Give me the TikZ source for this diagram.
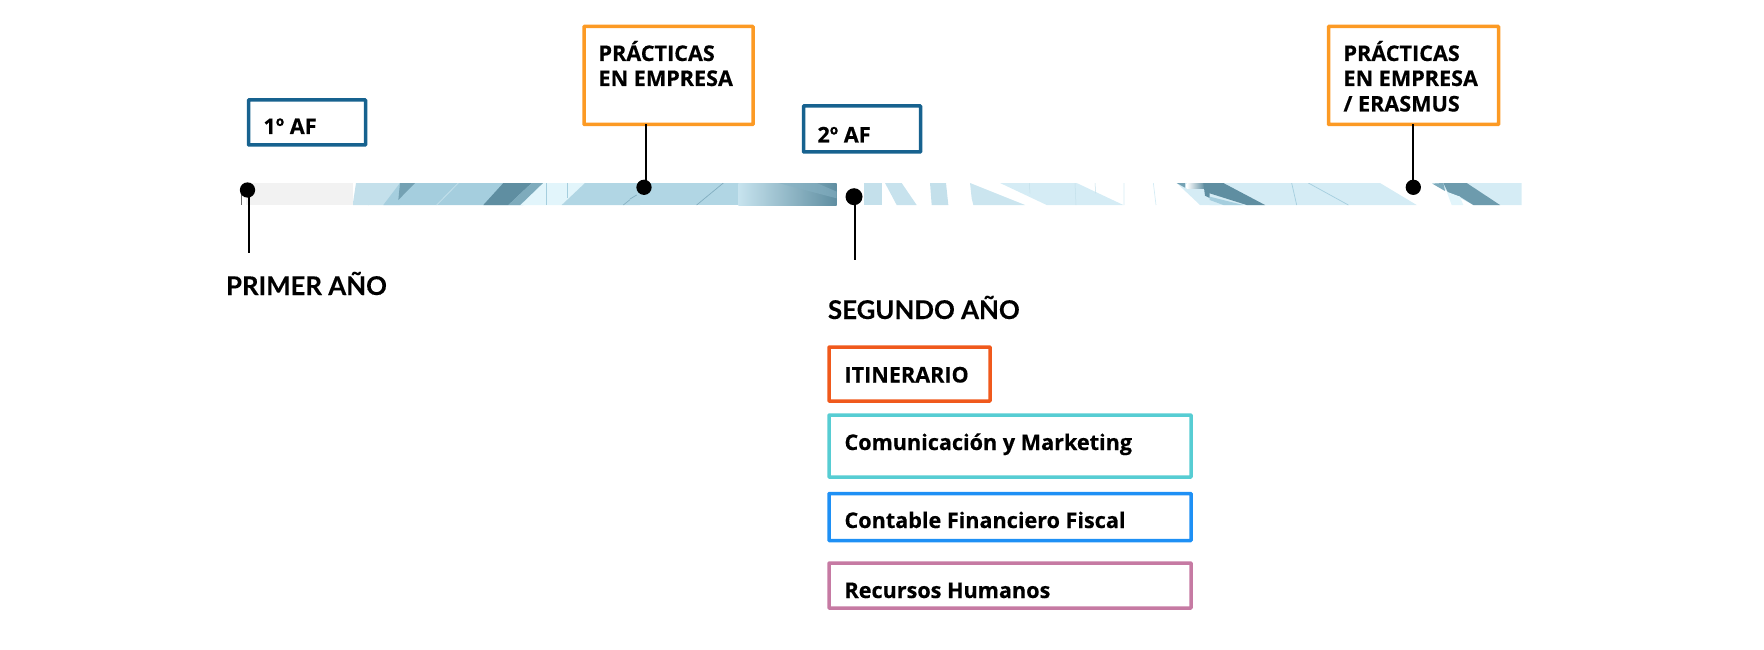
\documentclass[tikz,border=0pt]{standalone}
\usepackage{fontspec}
\newfontfamily\boxfont{Open Sans}[BoldFont={Open Sans Bold},BoldFeatures={FakeBold=0.35}]
\newfontfamily\headfont{Lato}[BoldFont={Lato Bold},BoldFeatures={FakeBold=0.25}]
\definecolor{afblue}{HTML}{17628F}
\definecolor{pracorange}{HTML}{FC9A24}
\definecolor{itired}{HTML}{F0591C}
\definecolor{comteal}{HTML}{57CDD3}
\definecolor{conblue}{HTML}{1E90F5}
\definecolor{recpink}{HTML}{C67AA3}
\definecolor{bgray}{HTML}{F2F2F2}
\definecolor{bl}{HTML}{C4E0EB}
\definecolor{bm}{HTML}{A5CEDE}
\definecolor{bd}{HTML}{5F8EA1}
\definecolor{bp}{HTML}{D5ECF5}
\definecolor{bw}{HTML}{E2F5FB}
\tikzset{
  framebox/.style={draw=#1,line width=3.5pt,rectangle,anchor=north west,inner sep=0pt,outer sep=0pt,rounded corners=.6pt},
  boxtext/.style={font=\boxfont\bfseries\fontsize{21.6}{25}\selectfont,anchor=base west,inner sep=0pt,outer sep=0pt,text=black},
  headtext/.style={font=\headfont\bfseries\fontsize{25.8}{30}\selectfont,anchor=base west,inner sep=0pt,outer sep=0pt,text=black},
  dotmark/.style={circle,fill=black,inner sep=0pt,outer sep=0pt,minimum size=#1},
  stem/.style={black,line width=2pt},
  panel/.style={x=.33333pt,y=-.33333pt,shift={(#1pt,-175pt)}}
}
\begin{document}
\begin{tikzpicture}[x=1pt,y=-1pt]
\useasboundingbox (0,0) rectangle (1764,650);
% band
\fill[bgray] (246,183) rectangle (353,205);
\begin{scope}
\clip (353,183) rectangle (1522,205);
\begin{scope}[panel=340]
\fill[bl] (48,24) -- (240,24) -- (180,90) -- (38,90) -- cycle;
\fill[bm] (180,24) -- (620,24) -- (550,90) -- (130,90) -- cycle;
\fill[bd!70!bm] (180,24) -- (225,24) -- (175,75) -- cycle;
\draw[bl,line width=.8pt] (150,24) -- (85,90) (355,24) -- (290,90);
\fill[bd] (490,24) -- (575,24) -- (505,90) -- (430,90) -- cycle;
\fill[bd!55!bm] (575,24) -- (610,24) -- (540,90) -- (505,90) -- cycle;
\fill[bw] (610,24) -- (735,24) -- (665,90) -- (542,90) -- cycle;
\draw[bm,line width=.6pt] (618,24) -- (618,90) (682,24) -- (682,68);
\fill[bm!80!bw] (735,24) -- (900,24) -- (900,90) -- (665,90) -- cycle;
\draw[bd!50!bm,line width=.6pt] (900,50) -- (850,90);
\end{scope}
\begin{scope}[panel=630]
\fill[bm!80!bw] (-1,24) rectangle (326,90);
\draw[bd!50!bm,line width=.7pt] (0,72) -- (20,60) (280,24) -- (200,90);
\shade[left color=bp!70!bm,right color=bd] (325,24) rectangle (620,90);
\fill[bd!45!bm,opacity=.6] (445,24) -- (560,24) -- (620,50) -- (620,70) -- cycle;
\fill[bl] (703,24) rectangle (755,90);
\fill[bl!80!bp] (765,24) -- (815,24) -- (860,90) -- (800,90) -- cycle;
\end{scope}
\begin{scope}[panel=920]
\fill[bl] (30,24) -- (78,24) -- (85,90) -- (35,90) -- cycle;
\fill[bl!60!bp] (150,24) -- (315,90) -- (160,90) -- (155,70) -- cycle;
\fill[bp] (240,24) -- (470,24) -- (610,90) -- (380,90) -- cycle;
\draw[bl,line width=.5pt] (328,24) -- (330,55) (465,24) -- (468,90) (525,24) -- (527,55);
\draw[bp,line width=.7pt] (612,24) -- (612,90) (700,24) -- (708,90);
\fill[bp] (770,24) -- (900,24) -- (900,90) -- (840,90) -- cycle;
\shade[left color=white,right color=bd] (800,24) rectangle (855,40);
\fill[bd] (850,24) -- (900,24) -- (900,85) -- (855,62) -- cycle;
\fill[bd!70!bm] (770,24) -- (795,24) -- (795,38) -- cycle;
\end{scope}
\begin{scope}[panel=1210]
\fill[bp] (-1,55) -- (40,24) -- (510,24) -- (620,90) -- (-1,90) -- cycle;
\fill[bd] (-1,24) -- (40,24) -- (165,90) -- (110,90) -- (-1,55) -- cycle;
\fill[bm] (-1,65) -- (100,90) -- (40,90) -- (-1,75) -- cycle;
\draw[bm,line width=.7pt] (295,24) -- (415,90) (245,24) -- (260,90);
\fill[bp] (665,24) -- (935,24) -- (935,90) -- (790,90) -- cycle;
\fill[bd!80!bm] (700,24) -- (770,24) -- (870,90) -- (790,90) -- (750,65) -- (715,55) -- cycle;
\fill[bd!55!bm] (667,26) -- (700,24) -- (705,48) -- cycle;
\fill[bw] (710,50) -- (750,65) -- (760,90) -- (725,90) -- cycle;
\end{scope}
\end{scope}
% small tick
\draw[black!60,line width=1.2pt] (241.7,190) -- (241.7,205);
% boxes
\node[framebox=afblue,minimum width=117pt,minimum height=45pt] (af1) at (248.5,100) {};
\node[framebox=afblue,minimum width=117pt,minimum height=46pt] (af2) at (803.5,106) {};
\node[framebox=pracorange,minimum width=169pt,minimum height=98pt] (pr1) at (584,26.5) {};
\node[framebox=pracorange,minimum width=170pt,minimum height=98pt] (pr2) at (1328.5,26.5) {};
\node[framebox=itired,minimum width=161pt,minimum height=54pt] (iti) at (829,347) {};
\node[framebox=comteal,minimum width=362pt,minimum height=62pt] (com) at (829,415) {};
\node[framebox=conblue,minimum width=362pt,minimum height=47pt] (con) at (829,493.5) {};
\node[framebox=recpink,minimum width=362pt,minimum height=45pt] (rec) at (829,563) {};
% texts
\node[boxtext] (t1) at (263.5,134) {1º AF};
\node[boxtext] (t2) at (817.5,142.5) {2º AF};
\node[boxtext] (t3a) at (598.5,61) {PRÁCTICAS};
\node[boxtext] (t3b) at (598.5,86) {EN EMPRESA};
\node[boxtext] (t4a) at (1343.5,61) {PRÁCTICAS};
\node[boxtext] (t4b) at (1343.5,86) {EN EMPRESA};
\node[boxtext] (t4c) at (1343.5,111.5) {/ ERASMUS};
\node[boxtext] (t5) at (844.5,382.5) {ITINERARIO};
\node[boxtext] (t6) at (844.5,450) {Comunicación y Marketing};
\node[boxtext] (t7) at (844.5,528) {Contable Financiero Fiscal};
\node[boxtext] (t8) at (844.5,598) {Recursos Humanos};
\node[headtext] (h1) at (226,295) {PRIMER AÑO};
\node[headtext] (h2) at (828,319) {SEGUNDO AÑO};
% dots
\node[dotmark=15.3pt] (d1) at (247.5,190) {};
\node[dotmark=15.3pt] (d2) at (644,187.3) {};
\node[dotmark=17pt] (d3) at (854,196.7) {};
\node[dotmark=15.3pt] (d4) at (1413.3,187.3) {};
\coordinate (e1) at (249,253);
\coordinate (e3) at (855,260);
% stems
\draw[stem] (d1) ++(1.5,0) -- (e1);
\draw[stem] (d3) ++(1,0) -- (e3);
\draw[stem] (d2) ++(2,0) -- ([xshift=2pt]pr1.south -| d2);
\draw[stem] (d4) -- (pr2.south -| d4);
\end{tikzpicture}
\end{document}
